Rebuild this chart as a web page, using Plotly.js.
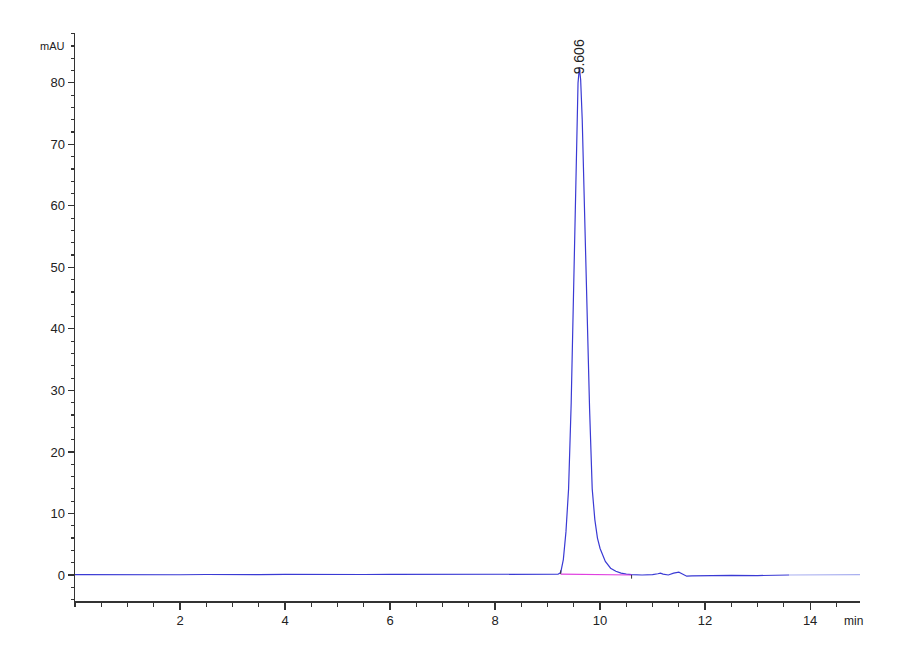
<!DOCTYPE html>
<html>
<head>
<meta charset="utf-8">
<script src="https://cdn.plot.ly/plotly-3.0.1.min.js"></script>
<style>
  body { margin: 0; background: #fff; }
  #chart { width: 900px; height: 660px; }
</style>
</head>
<body>
<div id="chart"></div>
<script>
// chromatogram signal (min, mAU)
var timeMain = [0, 0.5, 1, 1.5, 2, 2.5, 3, 3.5, 4, 4.5, 5, 5.5, 6, 6.5, 7, 7.5, 8, 8.5, 9, 9.2,
  9.25, 9.3, 9.35, 9.4, 9.45, 9.5, 9.55, 9.58, 9.606, 9.63, 9.66, 9.7, 9.75, 9.8, 9.85, 9.9, 9.95,
  10, 10.1, 10.2, 10.3, 10.4, 10.5, 10.6, 10.8, 11, 11.1, 11.15, 11.2, 11.3, 11.4, 11.5, 11.55,
  11.65, 11.75, 12, 12.5, 13, 13.3, 13.6];
var signalMain = [0.05, 0.02, 0.06, 0.0, 0.04, 0.08, 0.03, 0.06, 0.1, 0.07, 0.12, 0.08, 0.1, 0.09, 0.06, 0.1, 0.08, 0.12, 0.1, 0.12,
  0.4, 2.5, 7, 14, 28, 50, 72, 80, 82.5, 80.5, 74, 60, 42, 27, 14, 9, 6,
  4.3, 2.2, 1.1, 0.6, 0.3, 0.15, 0.05, 0.0, 0.05, 0.2, 0.3, 0.15, 0.0, 0.3, 0.45, 0.25,
  -0.2, -0.15, -0.1, -0.05, -0.1, -0.05, 0.0];
var timeTail = [13.6, 14, 14.5, 14.95];
var signalTail = [0.0, 0.05, 0.03, 0.05];

// integration baseline and peak label
var baseT = [9.25, 10.6];
var baseV = [0.15, 0.0];
var peakTime = 9.606;
var peakHeight = 82.5;

var xTicks = [2, 4, 6, 8, 10, 12, 14];
var yTicks = [0, 10, 20, 30, 40, 50, 60, 70, 80];

var axisColor = '#333';
var fontSpec = { family: 'Liberation Sans, Arial, sans-serif', size: 13, color: '#222' };

var traces = [
  { x: timeMain, y: signalMain, type: 'scatter', mode: 'lines',
    line: { color: '#3a3ad4', width: 1.2 }, hoverinfo: 'skip' },
  { x: timeTail, y: signalTail, type: 'scatter', mode: 'lines',
    line: { color: '#aab0f0', width: 1.2 }, hoverinfo: 'skip' },
  { x: baseT, y: baseV, type: 'scatter', mode: 'lines',
    line: { color: '#e040e0', width: 1.2 }, hoverinfo: 'skip' }
];

var layout = {
  width: 900, height: 660,
  margin: { l: 75, r: 40, t: 33, b: 59 },
  paper_bgcolor: '#fff', plot_bgcolor: '#fff',
  showlegend: false,
  font: fontSpec,
  xaxis: {
    range: [0, 14.95], showgrid: false, zeroline: false,
    showline: true, linecolor: axisColor, linewidth: 1.5,
    tickmode: 'array', tickvals: xTicks, ticks: 'outside', ticklen: 7, tickwidth: 1.2, tickcolor: axisColor,
    minor: { dtick: 0.5, tick0: 0, ticks: 'outside', ticklen: 4, tickwidth: 1.2, tickcolor: axisColor },
    tickfont: fontSpec
  },
  yaxis: {
    range: [-4.23, 88.1], showgrid: false, zeroline: false,
    showline: true, linecolor: axisColor, linewidth: 1.5,
    tickmode: 'array', tickvals: yTicks, ticks: 'outside', ticklen: 6, tickwidth: 1.2, tickcolor: axisColor,
    minor: { dtick: 2, tick0: 0, ticks: 'outside', ticklen: 3, tickwidth: 1.2, tickcolor: axisColor },
    tickfont: fontSpec
  },
  shapes: [
    { type: 'line', xref: 'x', yref: 'y', x0: baseT[0], x1: baseT[0], y0: baseV[0], y1: baseV[0] + 0.6,
      line: { color: '#333', width: 1 } },
    { type: 'line', xref: 'x', yref: 'y', x0: baseT[1], x1: baseT[1], y0: baseV[1], y1: baseV[1] - 0.6,
      line: { color: '#333', width: 1 } }
  ],
  annotations: [
    { x: peakTime, y: peakHeight, xref: 'x', yref: 'y', text: peakTime.toFixed(3),
      textangle: -90, showarrow: false, xanchor: 'center', yanchor: 'bottom', yshift: -9,
      font: { family: 'Liberation Sans, Arial, sans-serif', size: 14, color: '#222' } },
    { x: 0, y: 86, xref: 'paper', yref: 'y', text: 'mAU', showarrow: false,
      xanchor: 'right', xshift: -8, font: { family: 'Liberation Sans, Arial, sans-serif', size: 11, color: '#222' } },
    { x: 14.82, y: 0, xref: 'x', yref: 'paper', text: 'min', showarrow: false,
      yanchor: 'top', yshift: -11, font: { family: 'Liberation Sans, Arial, sans-serif', size: 12, color: '#222' } }
  ]
};

Plotly.newPlot('chart', traces, layout, { staticPlot: true });
</script>
</body>
</html>
